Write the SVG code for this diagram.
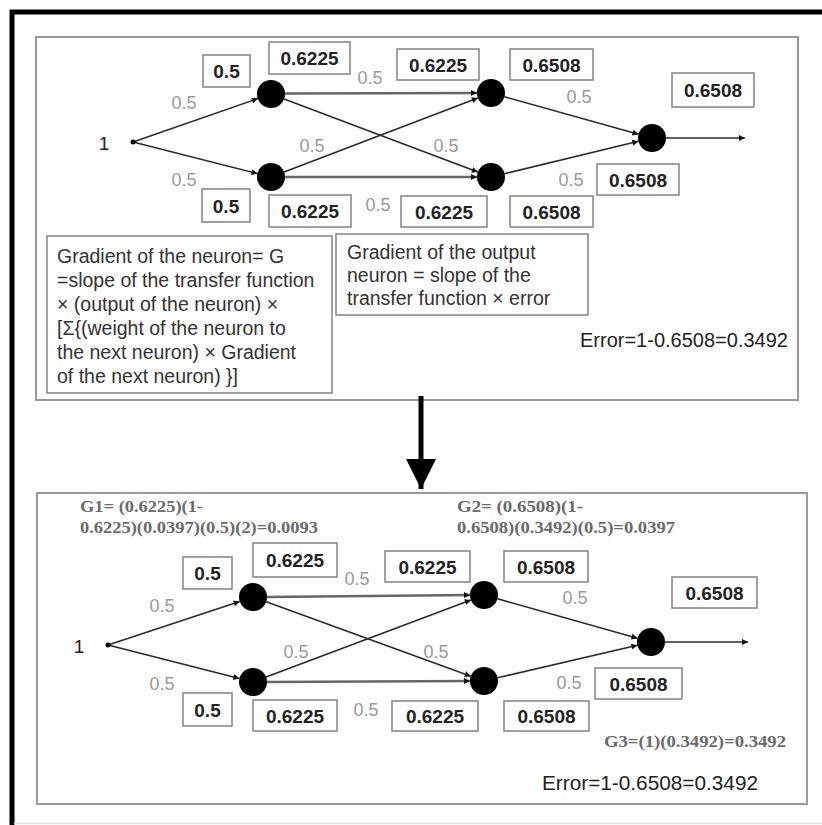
<svg xmlns="http://www.w3.org/2000/svg" width="822" height="825" viewBox="0 0 822 825">
  <style>
    .panel { fill: #fff; stroke: #999; stroke-width: 2; }
    .box { fill: #fff; stroke: #8a8a8a; stroke-width: 1.6; }
    .val { font-family: "Liberation Sans", Arial, sans-serif; font-weight: bold; font-size: 19px; fill: #222; text-anchor: middle; }
    .w { font-family: "Liberation Sans", Arial, sans-serif; font-size: 18px; fill: #9a9a9a; text-anchor: middle; }
    .note { font-family: "Liberation Sans", Arial, sans-serif; font-size: 19.5px; fill: #333; }
    .err { font-family: "Liberation Sans", Arial, sans-serif; font-size: 20px; fill: #222; }
    .g { font-family: "Liberation Serif", "Times New Roman", serif; font-weight: bold; font-size: 16px; fill: #6a6a6a; }
    .in { font-family: "Liberation Sans", Arial, sans-serif; font-size: 19px; fill: #222; text-anchor: middle; }
    .edge { stroke: #2a2a2a; stroke-width: 1.6; fill: none; marker-end: url(#tip); }
    .flat { stroke: #666; stroke-width: 2.6; fill: none; marker-end: url(#tip); }
    .neuron { fill: #000; }
  </style>
  <defs>
    <marker id="tip" viewBox="0 0 10 10" refX="10" refY="5" markerWidth="8" markerHeight="6" markerUnits="userSpaceOnUse" orient="auto">
      <path d="M0,0 L10,5 L0,10 z" fill="#111"/>
    </marker>
    <marker id="bigtip" viewBox="0 0 10 10" refX="10" refY="5" markerWidth="30" markerHeight="30" markerUnits="userSpaceOnUse" orient="auto">
      <path d="M0,0 L10,5 L0,10 z" fill="#000"/>
    </marker>
  </defs>

  <rect width="822" height="825" fill="#fff"/>

  <!-- outer frame (top and left rules) -->
  <g id="frame">
    <line x1="10" y1="12" x2="822" y2="12" stroke="#000" stroke-width="5"/>
    <line x1="12" y1="10" x2="12" y2="825" stroke="#000" stroke-width="5"/>
    <line x1="14" y1="823.5" x2="822" y2="823.5" stroke="#e2e2e2" stroke-width="1.5"/>
  </g>

  <!-- ===== forward pass panel ===== -->
  <rect id="panel-forward" class="panel" x="36" y="37" width="762" height="363"/>

  <g id="connectors-forward">
    <line class="edge" x1="133" y1="142" x2="257.8" y2="98.6"/>
    <line class="edge" x1="133" y1="142" x2="257.4" y2="173.6"/>
    <line class="flat" x1="285" y1="93.5" x2="477" y2="93"/>
    <line class="edge" x1="284.1" y1="98.9" x2="477.9" y2="172.1"/>
    <line class="edge" x1="284.1" y1="172" x2="477.9" y2="98"/>
    <line class="flat" x1="285" y1="177" x2="477" y2="177"/>
    <line class="edge" x1="504.5" y1="96.8" x2="638.5" y2="134.2"/>
    <line class="edge" x1="504.6" y1="173.7" x2="638.4" y2="141.3"/>
    <line class="edge" x1="666" y1="138" x2="745" y2="138"/>
  </g>

  <g id="input-forward">
    <circle cx="133" cy="142" r="2.5" fill="#000"/>
    <text class="in" x="104" y="150">1</text>
  </g>
  <g id="h1-forward"><circle class="neuron" cx="271" cy="94" r="14"/></g>
  <g id="h2-forward"><circle class="neuron" cx="271" cy="177" r="14"/></g>
  <g id="m1-forward"><circle class="neuron" cx="491" cy="93" r="14"/></g>
  <g id="m2-forward"><circle class="neuron" cx="491" cy="177" r="14"/></g>
  <g id="out-forward"><circle class="neuron" cx="652" cy="138" r="14"/></g>

  <g id="weights-forward">
    <text class="w" x="184" y="109">0.5</text>
    <text class="w" x="184" y="186">0.5</text>
    <text class="w" x="370" y="84">0.5</text>
    <text class="w" x="312" y="152">0.5</text>
    <text class="w" x="446" y="152">0.5</text>
    <text class="w" x="579" y="103">0.5</text>
    <text class="w" x="571" y="186">0.5</text>
    <text class="w" x="378" y="211">0.5</text>
  </g>

  <g id="values-forward">
    <g id="fv1"><rect class="box" x="203" y="55" width="47" height="32"/><text class="val" x="226.5" y="78">0.5</text></g>
    <g id="fv2"><rect class="box" x="269" y="42" width="81" height="32"/><text class="val" x="309.5" y="65">0.6225</text></g>
    <g id="fv3"><rect class="box" x="397" y="49" width="82" height="31"/><text class="val" x="438" y="71.5">0.6225</text></g>
    <g id="fv4"><rect class="box" x="510" y="49" width="83" height="31"/><text class="val" x="551.5" y="71.5">0.6508</text></g>
    <g id="fv5"><rect class="box" x="672" y="73" width="82" height="34"/><text class="val" x="713" y="97">0.6508</text></g>
    <g id="fv6"><rect class="box" x="597" y="164" width="82" height="31"/><text class="val" x="638" y="186.5">0.6508</text></g>
    <g id="fv7"><rect class="box" x="510" y="196" width="83" height="31"/><text class="val" x="551.5" y="218.5">0.6508</text></g>
    <g id="fv8"><rect class="box" x="401" y="196" width="86" height="31"/><text class="val" x="444" y="218.5">0.6225</text></g>
    <g id="fv9"><rect class="box" x="269" y="195" width="82" height="32"/><text class="val" x="310" y="218">0.6225</text></g>
    <g id="fv10"><rect class="box" x="202" y="189" width="48" height="33"/><text class="val" x="226" y="212.5">0.5</text></g>
  </g>

  <g id="note-hidden">
    <rect class="box" x="47" y="236" width="285" height="157"/>
    <text class="note" x="57" y="263">Gradient of the neuron= G</text>
    <text class="note" x="57" y="287">=slope of the transfer function</text>
    <text class="note" x="57" y="311">× (output of the neuron) ×</text>
    <text class="note" x="57" y="335">[Σ{(weight of the neuron to</text>
    <text class="note" x="57" y="359">the next neuron) × Gradient</text>
    <text class="note" x="57" y="383">of the next neuron) }]</text>
  </g>

  <g id="note-output">
    <rect class="box" x="336" y="234" width="252" height="81"/>
    <text class="note" x="347" y="259">Gradient of the output</text>
    <text class="note" x="347" y="282">neuron = slope of the</text>
    <text class="note" x="347" y="305">transfer function × error</text>
  </g>

  <text id="error-forward" class="err" x="580" y="347">Error=1-0.6508=0.3492</text>

  <!-- step arrow between panels -->
  <g id="step-arrow">
    <line x1="421" y1="396" x2="421" y2="489" stroke="#000" stroke-width="5" marker-end="url(#bigtip)"/>
  </g>

  <!-- ===== backward pass panel ===== -->
  <rect id="panel-backward" class="panel" x="37" y="493" width="770" height="311"/>

  <g id="gradients">
    <text class="g" x="80" y="512" textLength="123" lengthAdjust="spacingAndGlyphs">G1= (0.6225)(1-</text>
    <text class="g" x="80" y="533" textLength="238" lengthAdjust="spacingAndGlyphs">0.6225)(0.0397)(0.5)(2)=0.0093</text>
    <text class="g" x="457" y="512" textLength="126" lengthAdjust="spacingAndGlyphs">G2= (0.6508)(1-</text>
    <text class="g" x="457" y="533" textLength="218" lengthAdjust="spacingAndGlyphs">0.6508)(0.3492)(0.5)=0.0397</text>
    <text class="g" x="604" y="747" textLength="182" lengthAdjust="spacingAndGlyphs">G3=(1)(0.3492)=0.3492</text>
  </g>

  <g id="connectors-backward">
    <line class="edge" x1="108" y1="645" x2="239.7" y2="601.4"/>
    <line class="edge" x1="108" y1="645" x2="239.4" y2="678.5"/>
    <line class="flat" x1="267" y1="597" x2="470" y2="595"/>
    <line class="edge" x1="266.2" y1="601.8" x2="470.8" y2="676.2"/>
    <line class="edge" x1="266.1" y1="677.1" x2="470.9" y2="599.9"/>
    <line class="flat" x1="267" y1="682" x2="470" y2="681"/>
    <line class="edge" x1="497.5" y1="598.8" x2="637.5" y2="638.2"/>
    <line class="edge" x1="497.6" y1="677.8" x2="637.4" y2="645.2"/>
    <line class="edge" x1="665" y1="642" x2="748" y2="642"/>
  </g>

  <g id="input-backward">
    <circle cx="108" cy="645" r="2.5" fill="#000"/>
    <text class="in" x="79" y="653">1</text>
  </g>
  <g id="h1-backward"><circle class="neuron" cx="253" cy="597" r="14"/></g>
  <g id="h2-backward"><circle class="neuron" cx="253" cy="682" r="14"/></g>
  <g id="m1-backward"><circle class="neuron" cx="484" cy="595" r="14"/></g>
  <g id="m2-backward"><circle class="neuron" cx="484" cy="681" r="14"/></g>
  <g id="out-backward"><circle class="neuron" cx="651" cy="642" r="14"/></g>

  <g id="weights-backward">
    <text class="w" x="162" y="612">0.5</text>
    <text class="w" x="162" y="690">0.5</text>
    <text class="w" x="357" y="585">0.5</text>
    <text class="w" x="296" y="658">0.5</text>
    <text class="w" x="436" y="658">0.5</text>
    <text class="w" x="575" y="604">0.5</text>
    <text class="w" x="569" y="689">0.5</text>
    <text class="w" x="366" y="716">0.5</text>
  </g>

  <g id="values-backward">
    <g id="bv1"><rect class="box" x="183" y="557" width="49" height="32"/><text class="val" x="207.5" y="580">0.5</text></g>
    <g id="bv2"><rect class="box" x="253" y="543" width="84" height="34"/><text class="val" x="295" y="567">0.6225</text></g>
    <g id="bv3"><rect class="box" x="385" y="551" width="85" height="31"/><text class="val" x="427.5" y="573.5">0.6225</text></g>
    <g id="bv4"><rect class="box" x="504" y="551" width="84" height="31"/><text class="val" x="546" y="573.5">0.6508</text></g>
    <g id="bv5"><rect class="box" x="672" y="577" width="85" height="31"/><text class="val" x="714.5" y="599.5">0.6508</text></g>
    <g id="bv6"><rect class="box" x="595" y="668" width="87" height="31"/><text class="val" x="638.5" y="690.5">0.6508</text></g>
    <g id="bv7"><rect class="box" x="504" y="701" width="85" height="30"/><text class="val" x="546.5" y="723">0.6508</text></g>
    <g id="bv8"><rect class="box" x="392" y="701" width="86" height="30"/><text class="val" x="435" y="723">0.6225</text></g>
    <g id="bv9"><rect class="box" x="253" y="700" width="84" height="31"/><text class="val" x="295" y="722.5">0.6225</text></g>
    <g id="bv10"><rect class="box" x="183" y="693" width="49" height="33"/><text class="val" x="207.5" y="716.5">0.5</text></g>
  </g>

  <text id="error-backward" class="err" x="542" y="790" textLength="216" lengthAdjust="spacingAndGlyphs">Error=1-0.6508=0.3492</text>
</svg>
